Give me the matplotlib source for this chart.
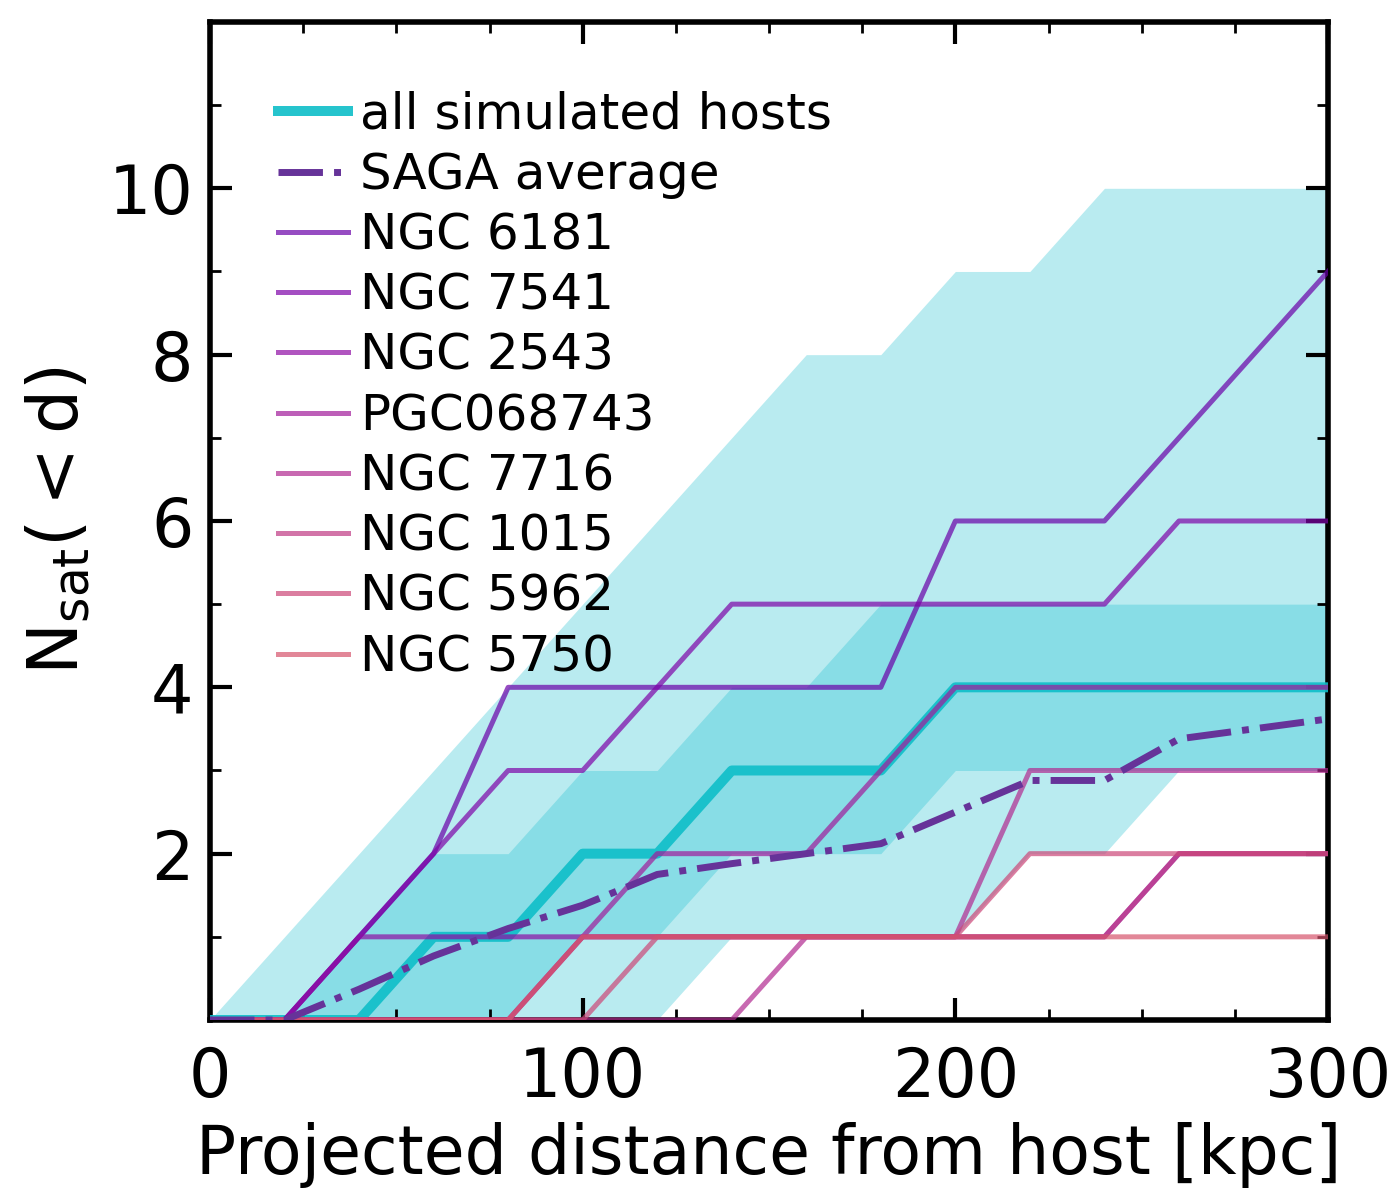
# cumulative satellite counts vs projected distance: simulated hosts vs SAGA

import numpy as np
import matplotlib
matplotlib.use('Agg')
import matplotlib.pyplot as plt
from matplotlib.ticker import MultipleLocator

dist = [0, 20, 40, 60, 80, 100, 120, 140, 160, 180, 200, 220, 240, 260, 280, 300]

# simulated hosts: median and percentile bands
sim_median = [0, 0, 0, 1, 1, 2, 2, 3, 3, 3, 4, 4, 4, 4, 4, 4]
sim_lo68 = [0, 0, 0, 0, 0, 1, 1, 2, 2, 2, 3, 3, 3, 3, 3, 3]
sim_hi68 = [0, 0, 1, 2, 2, 3, 3, 4, 4, 5, 5, 5, 5, 5, 5, 5]
sim_lo95 = [0, 0, 0, 0, 0, 0, 0, 1, 1, 1, 1, 2, 2, 3, 3, 3]
sim_hi95 = [0, 1, 2, 3, 4, 5, 6, 7, 8, 8, 9, 9, 10, 10, 10, 10]

saga_avg = [0, 0, 0.37, 0.77, 1.1, 1.38, 1.75, 1.88, 2.0, 2.12, 2.5, 2.88, 2.88, 3.38, 3.5, 3.62]

host_names = ['NGC 6181', 'NGC 7541', 'NGC 2543', 'PGC068743',
              'NGC 7716', 'NGC 1015', 'NGC 5962', 'NGC 5750']
ngc6181 = [0, 0, 1, 2, 4, 4, 4, 4, 4, 4, 6, 6, 6, 7, 8, 9]
ngc7541 = [0, 0, 1, 2, 3, 3, 4, 5, 5, 5, 5, 5, 5, 6, 6, 6]
ngc2543 = [0, 0, 1, 1, 1, 1, 1, 1, 1, 1, 1, 1, 1, 2, 2, 2]
pgc068743 = [0, 0, 0, 0, 0, 1, 2, 2, 2, 3, 4, 4, 4, 4, 4, 4]
ngc7716 = [0, 0, 0, 0, 0, 0, 0, 0, 1, 1, 1, 3, 3, 3, 3, 3]
ngc1015 = [0, 0, 0, 0, 0, 1, 1, 1, 1, 1, 1, 1, 1, 2, 2, 2]
ngc5962 = [0, 0, 0, 0, 0, 0, 1, 1, 1, 1, 1, 2, 2, 2, 2, 2]
ngc5750 = [0, 0, 0, 0, 0, 1, 1, 1, 1, 1, 1, 1, 1, 1, 1, 1]
host_counts = [ngc6181, ngc7541, ngc2543, pgc068743, ngc7716, ngc1015, ngc5962, ngc5750]


def main():
    plt.rcParams['mathtext.default'] = 'regular'
    fig = plt.figure(figsize=(7, 6), dpi=200)
    ax = fig.add_axes([0.15, 0.15, 0.7986, 0.8317])

    ax.fill_between(dist, sim_lo95, sim_hi95, color='tab:cyan', alpha=0.3, lw=0)
    ax.fill_between(dist, sim_lo68, sim_hi68, color='tab:cyan', alpha=0.3, lw=0)

    med, = ax.plot(dist, sim_median, color='#0ebec8', lw=3.6, alpha=0.9,
                   label='all simulated hosts', zorder=3)

    colors = plt.cm.plasma(np.linspace(0.2, 0.55, len(host_names)))
    host_lines = []
    for name, counts, c in zip(host_names, host_counts, colors):
        l, = ax.plot(dist, counts, color=c, lw=1.8, alpha=0.7, label=name, zorder=4)
        host_lines.append(l)

    saga, = ax.plot(dist, saga_avg, color='rebeccapurple', ls='-.', lw=2.5,
                    label='SAGA average', zorder=5)

    ax.set_xlim(0, 300)
    ax.set_ylim(0, 12)
    ax.set_yticks([2, 4, 6, 8, 10])
    ax.xaxis.set_major_locator(MultipleLocator(100))
    ax.xaxis.set_minor_locator(MultipleLocator(25))
    ax.yaxis.set_minor_locator(MultipleLocator(1))
    ax.tick_params(which='both', direction='in', top=True, right=True, labelsize=24)
    ax.tick_params(which='major', length=8, width=1.5)
    ax.tick_params(which='minor', length=4, width=1.0)
    ax.tick_params(axis='x', which='major', pad=9)
    ax.tick_params(axis='y', which='major', pad=6)
    for s in ax.spines.values():
        s.set_linewidth(2)

    ax.set_xlabel('Projected distance from host [kpc]', fontsize=24, labelpad=4)
    ax.set_ylabel('$N_{sat}(<d)$', fontsize=25, labelpad=6)

    ax.legend(handles=[med, saga] + host_lines, loc='upper left', frameon=False,
              fontsize=18, handlelength=1.40, handletextpad=0.24,
              labelspacing=0.245, borderaxespad=0,
              bbox_to_anchor=(0.043, 0.951))

    fig.savefig('out.png', dpi=200)


if __name__ == "__main__":
    main()
